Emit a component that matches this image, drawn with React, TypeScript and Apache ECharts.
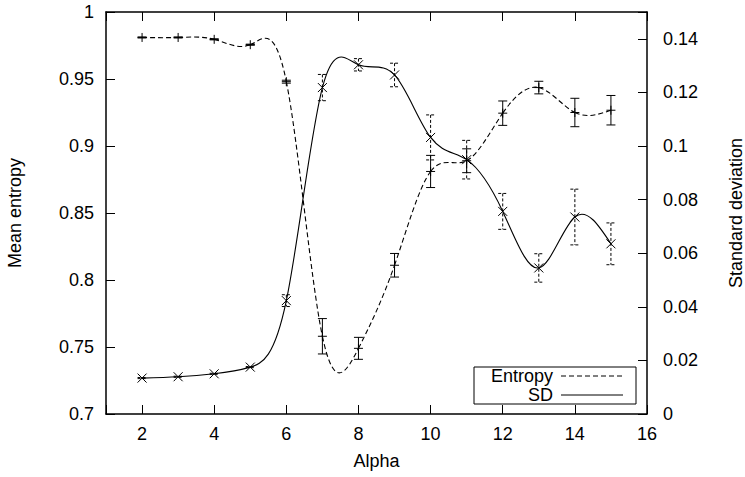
import React, { useEffect, useRef } from 'react';
import * as echarts from 'echarts';

const alpha = [2, 3, 4, 5, 6, 7, 8, 9, 10, 11, 12, 13, 14, 15];
const entropyMean = [0.981, 0.981, 0.9796, 0.9756, 0.948, 0.758, 0.749, 0.811, 0.881, 0.889, 0.9245, 0.9436, 0.925, 0.9267];
const entropyErr = [0.0004, 0.0004, 0.0004, 0.0004, 0.0011, 0.0132, 0.0082, 0.0088, 0.012, 0.0089, 0.0091, 0.0047, 0.0106, 0.011];
const sdMean = [0.0134, 0.0139, 0.015, 0.0175, 0.0423, 0.1218, 0.1303, 0.1265, 0.1032, 0.0949, 0.0756, 0.0545, 0.0735, 0.0635];
const sdErr = [0.0002, 0.0002, 0.0002, 0.0002, 0.0022, 0.0049, 0.0023, 0.0044, 0.0084, 0.0072, 0.0067, 0.0053, 0.0104, 0.0078];

const FONT = '"Liberation Sans", Arial, Helvetica, sans-serif';
const FS = 18;

// natural cubic spline (gnuplot "smooth csplines") as bezier control points in data space
function splineSegments(xs: number[], ys: number[]) {
  const n = xs.length;
  const h: number[] = [];
  for (let i = 0; i < n - 1; i++) h.push(xs[i + 1] - xs[i]);
  const M = new Array(n).fill(0);
  const m = n - 2;
  if (m > 0) {
    const a: number[] = [], b: number[] = [], c: number[] = [], d: number[] = [];
    for (let i = 1; i <= m; i++) {
      a.push(h[i - 1]);
      b.push(2 * (h[i - 1] + h[i]));
      c.push(h[i]);
      d.push(6 * ((ys[i + 1] - ys[i]) / h[i] - (ys[i] - ys[i - 1]) / h[i - 1]));
    }
    for (let i = 1; i < m; i++) {
      const w = a[i] / b[i - 1];
      b[i] -= w * c[i - 1];
      d[i] -= w * d[i - 1];
    }
    const sol = new Array(m).fill(0);
    sol[m - 1] = d[m - 1] / b[m - 1];
    for (let i = m - 2; i >= 0; i--) sol[i] = (d[i] - c[i] * sol[i + 1]) / b[i];
    for (let i = 0; i < m; i++) M[i + 1] = sol[i];
  }
  const segs: number[][] = [];
  for (let i = 0; i < n - 1; i++) {
    const hh = h[i];
    const s = (ys[i + 1] - ys[i]) / hh;
    const d0 = s - (hh * (2 * M[i] + M[i + 1])) / 6;
    const d1 = s + (hh * (M[i] + 2 * M[i + 1])) / 6;
    segs.push([xs[i] + hh / 3, ys[i] + (d0 * hh) / 3, xs[i + 1] - hh / 3, ys[i + 1] - (d1 * hh) / 3]);
  }
  return segs;
}

function curveSeries(ys: number[], yAxisIndex: number, dash: number[] | null) {
  const segs = splineSegments(alpha, ys);
  return {
    type: 'custom',
    yAxisIndex,
    silent: true,
    clip: true,
    data: alpha.map((x, i) => [x, ys[i]]),
    encode: { x: 0, y: 1 },
    renderItem: (params: any, api: any) => {
      const i = params.dataIndex;
      if (i >= alpha.length - 1) return { type: 'group', children: [] };
      const p0 = api.coord([alpha[i], ys[i]]);
      const p1 = api.coord([alpha[i + 1], ys[i + 1]]);
      const c1 = api.coord([segs[i][0], segs[i][1]]);
      const c2 = api.coord([segs[i][2], segs[i][3]]);
      return {
        type: 'bezierCurve',
        shape: { x1: p0[0], y1: p0[1], x2: p1[0], y2: p1[1], cpx1: c1[0], cpy1: c1[1], cpx2: c2[0], cpy2: c2[1] },
        style: { stroke: '#000', fill: null, lineWidth: 1.1, lineDash: dash || undefined },
      };
    },
  };
}

function errorSeries(ys: number[], errs: number[], yAxisIndex: number, marker: 'plus' | 'cross', dash: number[] | null) {
  return {
    type: 'custom',
    yAxisIndex,
    silent: true,
    data: alpha.map((x, i) => [x, ys[i], errs[i]]),
    encode: { x: 0, y: 1 },
    renderItem: (params: any, api: any) => {
      const x = api.value(0);
      const y = api.value(1);
      const e = api.value(2);
      const c = api.coord([x, y]);
      const top = api.coord([x, y + e]);
      const bot = api.coord([x, y - e]);
      const cap = 4.5;
      const ls = { stroke: '#000', lineWidth: 1, lineDash: dash || undefined };
      const ms = { stroke: '#000', lineWidth: 1 };
      const children: any[] = [
        { type: 'line', shape: { x1: c[0], y1: top[1], x2: c[0], y2: bot[1] }, style: ls },
        { type: 'line', shape: { x1: c[0] - cap, y1: top[1], x2: c[0] + cap, y2: top[1] }, style: ls },
        { type: 'line', shape: { x1: c[0] - cap, y1: bot[1], x2: c[0] + cap, y2: bot[1] }, style: ls },
      ];
      if (marker === 'plus') {
        children.push({ type: 'line', shape: { x1: c[0] - 4.5, y1: c[1], x2: c[0] + 4.5, y2: c[1] }, style: ms });
        children.push({ type: 'line', shape: { x1: c[0], y1: c[1] - 4.5, x2: c[0], y2: c[1] + 4.5 }, style: ms });
      } else {
        children.push({ type: 'line', shape: { x1: c[0] - 4.5, y1: c[1] - 4.5, x2: c[0] + 4.5, y2: c[1] + 4.5 }, style: ms });
        children.push({ type: 'line', shape: { x1: c[0] - 4.5, y1: c[1] + 4.5, x2: c[0] + 4.5, y2: c[1] - 4.5 }, style: ms });
      }
      return { type: 'group', children };
    },
  };
}

const axisCommon = {
  axisLine: { show: true, lineStyle: { color: '#000', width: 1.5 } },
  axisTick: { show: true, inside: true, length: 9, lineStyle: { color: '#000', width: 1 } },
  splitLine: { show: false },
};

export default function App() {
  const ref = useRef<HTMLDivElement>(null);
  useEffect(() => {
    if (!ref.current) return;
    const chart = echarts.init(ref.current, undefined, { renderer: 'svg' });
    const option: any = {
      animation: false,
      backgroundColor: '#fff',
      textStyle: { fontFamily: FONT },
      grid: { left: 106, right: 98, top: 12, bottom: 63, containLabel: false, outerBoundsMode: 'none' },
      xAxis: [
        {
          type: 'value',
          min: 1,
          max: 16,
          minInterval: 2,
          maxInterval: 2,
          ...axisCommon,
          name: 'Alpha',
          nameLocation: 'middle',
          nameGap: 38,
          nameTextStyle: { fontSize: FS, color: '#000', fontFamily: FONT },
          axisLabel: {
            margin: 11,
            fontSize: FS,
            color: '#000',
            fontFamily: FONT,
            formatter: (v: number) => (v % 2 === 0 ? String(v) : ''),
          },
        },
        {
          type: 'value',
          position: 'top',
          min: 1,
          max: 16,
          minInterval: 2,
          maxInterval: 2,
          ...axisCommon,
          axisLabel: { show: false },
        },
      ],
      yAxis: [
        {
          type: 'value',
          min: 0.7,
          max: 1,
          interval: 0.05,
          ...axisCommon,
          name: 'Mean entropy',
          nameLocation: 'middle',
          nameRotate: 90,
          nameGap: 82,
          nameTextStyle: { fontSize: FS, color: '#000', fontFamily: FONT },
          axisLabel: { margin: 12, fontSize: FS, color: '#000', fontFamily: FONT },
        },
        {
          type: 'value',
          position: 'right',
          min: 0,
          max: 0.15,
          interval: 0.02,
          ...axisCommon,
          name: 'Standard deviation',
          nameLocation: 'middle',
          nameRotate: 90,
          nameGap: 80,
          nameTextStyle: { fontSize: FS, color: '#000', fontFamily: FONT },
          axisLabel: {
            margin: 16,
            fontSize: FS,
            color: '#000',
            fontFamily: FONT,
            formatter: (v: number) => (Math.abs(v - 0.15) < 1e-9 ? '' : String(+v.toFixed(2))),
          },
        },
      ],
      series: [
        curveSeries(entropyMean, 0, [5, 3]),
        curveSeries(sdMean, 1, null),
        errorSeries(entropyMean, entropyErr, 0, 'plus', null),
        errorSeries(sdMean, sdErr, 1, 'cross', [3, 2]),
      ],
      graphic: [
        {
          type: 'rect',
          shape: { x: 474, y: 367, width: 162, height: 37 },
          style: { fill: '#fff', stroke: '#000', lineWidth: 1 },
          z: 100,
        },
        {
          type: 'text',
          x: 553,
          y: 376,
          style: { text: 'Entropy', fontSize: FS, fontFamily: FONT, fill: '#000', textAlign: 'right', textVerticalAlign: 'middle' },
          z: 101,
        },
        {
          type: 'line',
          shape: { x1: 561, y1: 376, x2: 623, y2: 376 },
          style: { stroke: '#000', lineWidth: 1, lineDash: [5, 3] },
          z: 101,
        },
        {
          type: 'text',
          x: 553,
          y: 395,
          style: { text: 'SD', fontSize: FS, fontFamily: FONT, fill: '#000', textAlign: 'right', textVerticalAlign: 'middle' },
          z: 101,
        },
        {
          type: 'line',
          shape: { x1: 561, y1: 395, x2: 623, y2: 395 },
          style: { stroke: '#000', lineWidth: 1 },
          z: 101,
        },
      ],
    };
    chart.setOption(option);
    return () => chart.dispose();
  }, []);
  return <div ref={ref} style={{ position: 'fixed', left: 0, top: 0, width: 745, height: 477 }} />;
}
